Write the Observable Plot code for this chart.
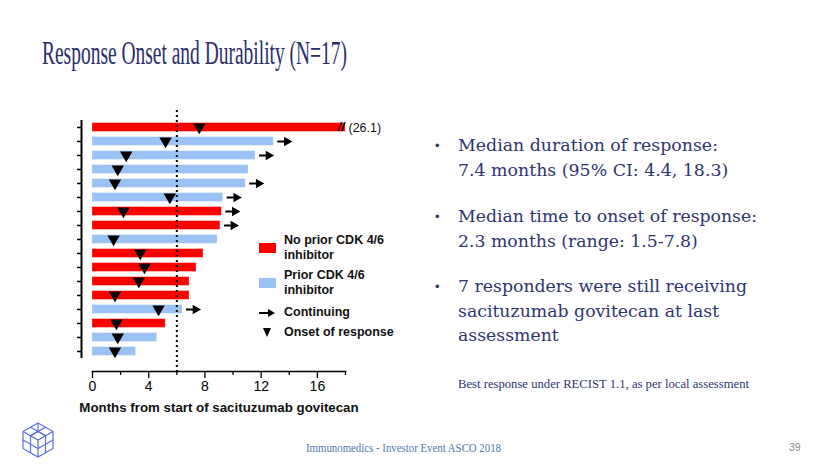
<!DOCTYPE html>
<html>
<head>
<meta charset="utf-8">
<script src="https://cdn.jsdelivr.net/npm/d3@7"></script>
<script src="https://cdn.jsdelivr.net/npm/@observablehq/plot@0.6"></script>
<style>
  html, body { margin: 0; padding: 0; background: #fff; }
  #page { position: relative; width: 830px; height: 467px; overflow: hidden; background: #fff; }
  .abs { position: absolute; white-space: nowrap; }
  .fit { transform-origin: 0 0; }
  #title { left: 42px; top: 35px; font-family: "Liberation Serif", serif; font-size: 33px; color: #2b2d6c; }
  .bul { font-family: "DejaVu Serif", serif; font-size: 17.5px; color: #2f3570; line-height: 24.5px; }
  .dot { font-family: "Liberation Sans", sans-serif; font-size: 13px; color: #2f3570; }
  .leg { font-family: "Liberation Sans", Arial, sans-serif; font-weight: bold; font-size: 12.5px; color: #111; line-height: 15px; }
  #chart { left: 0px; top: 100px; }
</style>
</head>
<body>
<div id="page">
  <div id="title" class="abs fit" data-w="305">Response Onset and Durability (N=17)</div>
  <div id="chart" class="abs"></div>

  <div class="abs dot" style="left:435px; top:138px;">•</div>
  <div class="abs bul fit" data-w="260" style="left:458px; top:133px;">Median duration of response:<br>7.4 months (95% CI: 4.4, 18.3)</div>
  <div class="abs dot" style="left:435px; top:209px;">•</div>
  <div class="abs bul fit" data-w="299" style="left:458px; top:204px;">Median time to onset of response:<br>2.3 months (range: 1.5-7.8)</div>
  <div class="abs dot" style="left:435px; top:279px;">•</div>
  <div class="abs bul fit" data-w="289" style="left:458px; top:274px;">7 responders were still receiving<br>sacituzumab govitecan at last<br>assessment</div>
  <div class="abs fit" data-w="291" style="left:458px; top:377px; font-family:'Liberation Serif',serif; font-size:12.5px; color:#2f3570;">Best response under RECIST 1.1, as per local assessment</div>

  <div class="abs" id="leg"></div>

  <svg class="abs" style="left:20px; top:421px;" width="36" height="38" viewBox="0 0 36 38">
    <g fill="none" stroke="#5a6fd8" stroke-width="1.2">
      <polygon points="18,2 33,10.5 33,27.5 18,36 3,27.5 3,10.5"/>
      <polyline points="3,10.5 18,19 33,10.5"/>
      <line x1="18" y1="19" x2="18" y2="36"/>
      <polyline points="10.5,6.2 25.5,14.7 25.5,31.7"/>
      <polyline points="25.5,6.2 10.5,14.7 10.5,31.7"/>
      <polyline points="3,19 10.5,23.2 18,27.5 25.5,23.2 33,19"/>
      <line x1="18" y1="2" x2="18" y2="10.5"/>
      <polyline points="10.5,14.7 18,10.5 25.5,14.7"/>
    </g>
  </svg>
  <div class="abs fit" data-w="195" style="left:306px; top:440px; font-family:'Liberation Serif',serif; font-size:13.5px; color:#4f78ad;">Immunomedics - Investor Event ASCO 2018</div>
  <div class="abs" style="left:789px; top:441px; font-family:'Liberation Sans Narrow','Liberation Sans',sans-serif; font-size:10.5px; color:#8a8a8a;">39</div>
</div>

<script>
// ---- data (top row first) ----
const patients   = ["P1","P2","P3","P4","P5","P6","P7","P8","P9","P10","P11","P12","P13","P14","P15","P16","P17"];
const cohorts    = ["No prior","Prior","Prior","Prior","Prior","Prior","No prior","No prior","Prior","No prior","No prior","No prior","No prior","Prior","No prior","Prior","Prior"];
const durations  = [26.1, 12.9, 11.6, 11.1, 10.9, 9.3, 9.2, 9.1, 8.9, 7.9, 7.4, 6.9, 6.9, 6.4, 5.2, 4.6, 3.1];
const onsets     = [7.6, 5.2, 2.4, 1.8, 1.6, 5.5, 2.2, null, 1.5, 3.4, 3.7, 3.3, 1.6, 4.7, 1.7, 1.8, 1.6];
const continuing = [false, true, true, false, true, true, true, true, false, false, false, false, false, true, false, false, false];
const xMax = 18;            // axis broken at 18 months
const medianLine = 6;       // dotted reference line
const majorTicks = [0, 4, 8, 12, 16];
const minorTicks = [2, 6, 10, 14, 18];
const cohortNames  = ["No prior", "Prior"];
const cohortLabels = ["No prior CDK 4/6<br>inhibitor", "Prior CDK 4/6<br>inhibitor"];
const cohortColors = ["#ff0000", "#9bc2f5"];

const rows = patients.map((id, i) => ({
  id, cohort: cohorts[i], dur: durations[i], shown: Math.min(durations[i], xMax),
  broken: durations[i] > xMax, onset: onsets[i], cont: continuing[i]
}));

const chart = Plot.plot({
  width: 400,
  height: 322,
  marginLeft: 92,
  marginRight: 55,
  marginTop: 10,
  marginBottom: 51,
  style: {fontFamily: "'Liberation Sans', Arial, sans-serif", background: "transparent", overflow: "visible"},
  x: {domain: [0, xMax]},
  y: {type: "band", domain: patients, range: [18.6, 258.8], padding: 0, axis: null},
  color: {domain: cohortNames, range: cohortColors},
  marks: [
    // y axis line (offset left of the x origin) and its row ticks
    Plot.tickX(rows, {x: () => 0, y: "id", dx: -11, stroke: "#000", strokeWidth: 2}),
    Plot.ruleY(rows, {y: "id", x1: 0, x2: 0, insetLeft: -15, insetRight: 11, stroke: "#000", strokeWidth: 1.5}),
    // bars
    Plot.barX(rows, {x1: 0, x2: "shown", y: "id", fill: "cohort", insetTop: 2.6, insetBottom: 2.6, stroke: "#fff", strokeOpacity: 0.35, strokeWidth: 0.8}),
    // median dotted line
    Plot.ruleX([medianLine], {stroke: "#000", strokeWidth: 2, strokeDasharray: "2,3"}),
    // axis break marks and true value
    Plot.text(rows.filter(d => d.broken), {x: "shown", y: "id", text: () => "//", textAnchor: "end", dx: -1, fontSize: 12, fontStyle: "italic", fontWeight: "bold", fill: "#000"}),
    Plot.text(rows.filter(d => d.broken), {x: "shown", y: "id", text: d => `(${d.dur})`, textAnchor: "start", dx: 3, fontSize: 12.5, fill: "#111"}),
    // onset triangles
    Plot.dot(rows.filter(d => d.onset != null), {x: "onset", y: "id", symbol: "triangle", rotate: 180, r: 4.6, fill: "#000", stroke: "none", dy: -0.5}),
    // continuing arrows
    Plot.ruleY(rows.filter(d => d.cont), {y: "id", x1: "shown", x2: "shown", insetLeft: 4, insetRight: -11, stroke: "#000", strokeWidth: 2}),
    Plot.dot(rows.filter(d => d.cont), {x: "shown", y: "id", dx: 13, symbol: "triangle", rotate: 90, r: 3.6, fill: "#000", stroke: "none"}),
    // x axis
    Plot.frame({anchor: "bottom", stroke: "#000", strokeWidth: 1.6}),
    Plot.axisX(majorTicks, {tickSize: 7, tickPadding: 3, tickFormat: d => d, fontSize: 14, label: null, strokeWidth: 1.3}),
    Plot.axisX(minorTicks, {tickSize: 4, text: null, label: null, strokeWidth: 1.3}),
    Plot.text(["Months from start of sacituzumab govitecan"], {frameAnchor: "bottom", dy: 40, fontSize: 13.3, fontWeight: "bold", fill: "#111"})
  ]
});
document.getElementById("chart").appendChild(chart);

// legend (built from the cohort arrays)
const leg = document.getElementById("leg");
leg.style.left = "0px"; leg.style.top = "0px";
cohortNames.forEach((c, i) => {
  const top = 233 + i * 35;
  const sw = document.createElement("div");
  sw.className = "abs";
  Object.assign(sw.style, {left: "259px", top: (top + 10) + "px", width: "17px", height: "10px", background: cohortColors[i]});
  leg.appendChild(sw);
  const tx = document.createElement("div");
  tx.className = "abs leg";
  Object.assign(tx.style, {left: "284px", top: top + "px"});
  tx.innerHTML = cohortLabels[i];
  leg.appendChild(tx);
});
leg.insertAdjacentHTML("beforeend", `
  <svg class="abs" style="left:258px; top:307px;" width="20" height="12"><line x1="1" y1="6" x2="12" y2="6" stroke="#000" stroke-width="2"/><polygon points="10,2 17,6 10,10" fill="#000"/></svg>
  <div class="abs leg" style="left:284px; top:305px;">Continuing</div>
  <svg class="abs" style="left:262px; top:327px;" width="12" height="12"><polygon points="1,1 9,1 5,10" fill="#000"/></svg>
  <div class="abs leg" style="left:284px; top:325px;">Onset of response</div>
`);

// fit text blocks horizontally to the widths of the original faces
document.querySelectorAll(".fit").forEach(el => {
  const target = +el.dataset.w;
  let w;
  if (el.innerHTML.includes("<br>")) {
    // width of the first line
    const probe = document.createElement("span");
    probe.style.cssText = getComputedStyle(el).cssText;
    probe.textContent = el.innerHTML.split("<br>")[0];
    const tmp = el.cloneNode(false);
    tmp.style.visibility = "hidden"; tmp.style.transform = "none";
    tmp.textContent = el.innerHTML.split("<br>")[0];
    el.parentNode.appendChild(tmp);
    w = tmp.getBoundingClientRect().width;
    tmp.remove();
  } else {
    w = el.getBoundingClientRect().width;
  }
  el.style.transform = `scaleX(${target / w})`;
});
</script>
</body>
</html>
